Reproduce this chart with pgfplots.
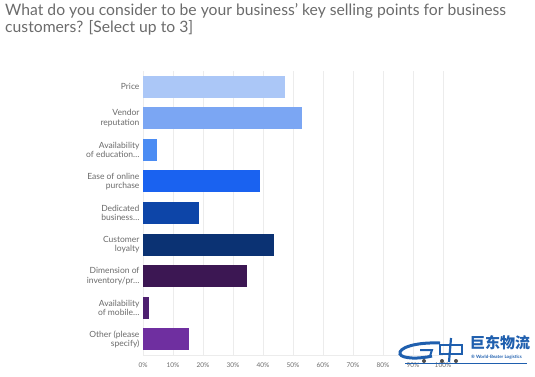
\documentclass[border=0pt]{standalone}
\usepackage{pgfplots}
\pgfplotsset{compat=1.18}
\usepackage{fontspec}
\setmainfont{Lato}
\newfontfamily\cjk{Noto Sans CJK SC}
\definecolor{txt}{HTML}{6B6B6B}
\definecolor{lbl}{HTML}{6A6A6A}
\definecolor{grd}{HTML}{ECECEC}
\definecolor{c1}{HTML}{ABC7F7}
\definecolor{c2}{HTML}{7BA6F3}
\definecolor{c3}{HTML}{4B8CF3}
\definecolor{c4}{HTML}{1A62F0}
\definecolor{c5}{HTML}{0D45A8}
\definecolor{c6}{HTML}{0B3273}
\definecolor{c7}{HTML}{3C1753}
\definecolor{c8}{HTML}{4E2070}
\definecolor{c9}{HTML}{6F2FA0}
\definecolor{wm}{HTML}{1F5FAE}
\begin{document}
\begin{tikzpicture}
\path[use as bounding box] (0,0) rectangle (535pt,-376pt);
\node[anchor=north west, inner sep=0pt, align=left, text=txt, font=\fontsize{15.7}{17}\selectfont] at (5pt,-3pt)
  {What do you consider to be your business' key selling points for business\\customers? [Select up to 3]};
\begin{axis}[
  at={(143pt,-355pt)}, anchor=south west,
  scale only axis, width=300pt, height=284pt,
  xmin=0, xmax=100, ymin=-0.5, ymax=8.5, y dir=reverse,
  xbar, bar width=22pt, bar shift=0pt,
  xtick={0,10,20,30,40,50,60,70,80,90,100},
  xticklabels={0\%,10\%,20\%,30\%,40\%,50\%,60\%,70\%,80\%,90\%,100\%},
  ytick={0,1,2,3,4,5,6,7,8},
  yticklabels={{Price},{Vendor\\reputation},{Availability\\of education\ldots},{Ease of online\\purchase},{Dedicated\\business\ldots},{Customer\\loyalty},{Dimension of\\inventory/pr\ldots},{Availability\\of mobile\ldots},{Other (please\\specify)}},
  yticklabel style={align=right, font=\fontsize{8.5}{9.5}\selectfont, text=lbl},
  xticklabel style={font=\fontsize{6.5}{8}\selectfont, text=lbl, yshift=-4pt},
  major tick length=0pt,
  xmajorgrids, grid style={grd, line width=0.6pt},
  axis x line*=bottom, x axis line style={draw=grd, line width=0.8pt},
  axis y line*=left, y axis line style={draw=none},
  every axis plot/.append style={draw=none},
]
\addplot[fill=c1] coordinates {(47.2,0)};
\addplot[fill=c2] coordinates {(52.9,1)};
\addplot[fill=c3] coordinates {(4.8,2)};
\addplot[fill=c4] coordinates {(39.0,3)};
\addplot[fill=c5] coordinates {(18.8,4)};
\addplot[fill=c6] coordinates {(43.8,5)};
\addplot[fill=c7] coordinates {(34.8,6)};
\addplot[fill=c8] coordinates {(2.0,7)};
\addplot[fill=c9] coordinates {(15.2,8)};
\end{axis}
% watermark logo (approximate)
\draw[wm, line width=3pt] (440pt,-343pt) .. controls (415pt,-342pt) and (398pt,-348pt) .. (400pt,-354pt) .. controls (402pt,-359pt) and (420pt,-359pt) .. (432pt,-356pt);
\draw[wm, line width=2pt] (420pt,-350pt) -- (432pt,-350pt) -- (430pt,-356pt);
\draw[wm, line width=2pt] (440pt,-345pt) rectangle (462pt,-354pt);
\draw[wm, line width=2.2pt] (451pt,-338pt) -- (449pt,-362pt);
\fill[black!70] (424pt,-361pt) circle (2pt) (442pt,-361pt) circle (2pt) (456pt,-361pt) circle (2pt);
\node[anchor=south west, inner sep=0pt, text=wm, font=\cjk\bfseries\fontsize{15}{15}\selectfont] at (470pt,-350pt) {巨东物流};
\node[anchor=west, inner sep=0pt, text=wm, font=\bfseries\fontsize{4.5}{5}\selectfont] at (471pt,-357.5pt) {® World-Beater Logistics};
\draw[wm, line width=0.8pt] (405pt,-363pt) -- (527pt,-363pt);
\end{tikzpicture}
\end{document}
